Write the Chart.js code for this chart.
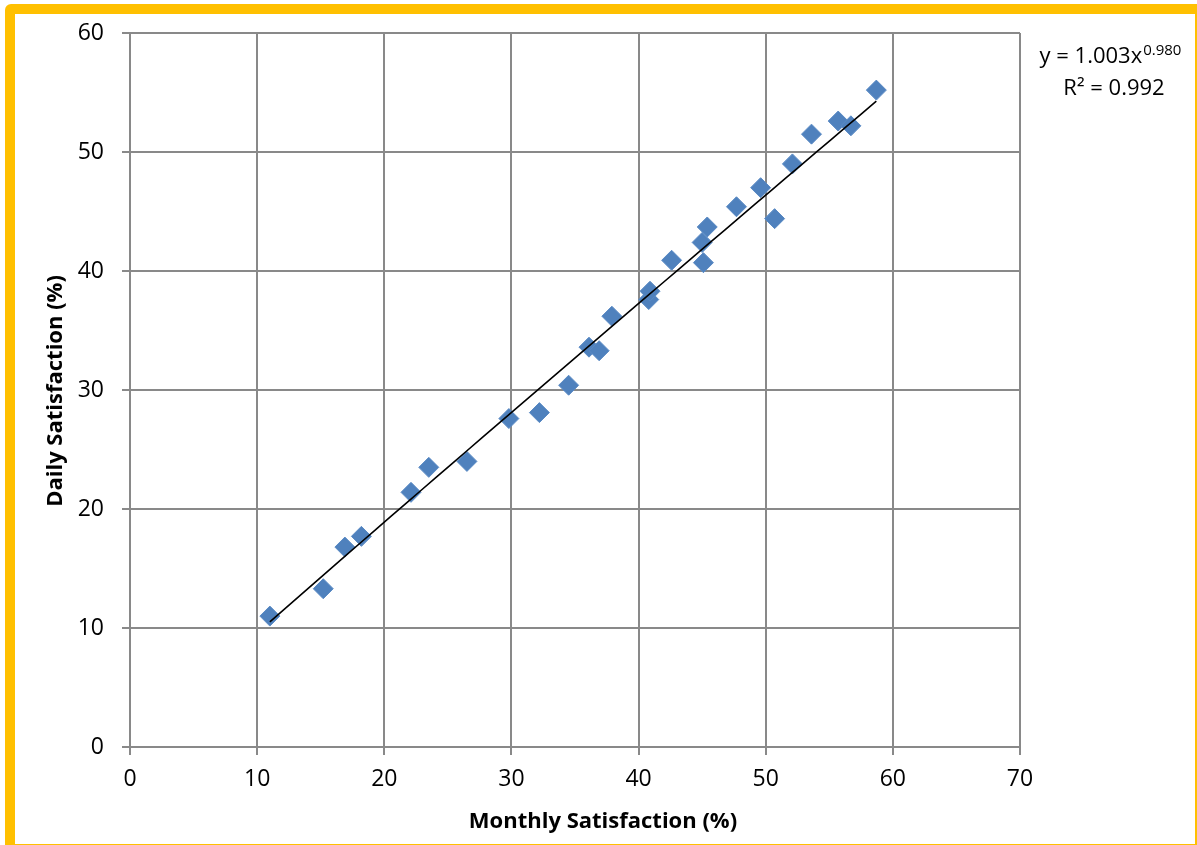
<!DOCTYPE html>
<html>
<head>
<meta charset="utf-8">
<script src="https://cdn.jsdelivr.net/npm/chart.js@4.4.1/dist/chart.umd.min.js"></script>
<style>
  html, body { margin: 0; padding: 0; background: #ffffff; overflow: hidden; }
  #wrap { position: relative; width: 1197px; height: 845px; }
  #chart { position: absolute; left: 0; top: 0; }
  #frame {
    position: absolute; left: 5px; top: 4px; width: 1200px; height: 850px;
    border: 10px solid #FFC000; border-top-left-radius: 6px; box-sizing: border-box;
    pointer-events: none;
  }
</style>
</head>
<body>
<div id="wrap">
  <canvas id="chart" width="1197" height="845"></canvas>
  <div id="frame"></div>
</div>
<script>
// Monthly vs. daily satisfaction (%) per observation
const monthly = [11.0, 15.2, 16.9, 18.2, 22.1, 23.5, 26.5, 29.8, 32.2, 34.5, 36.1, 36.9, 37.9, 40.8, 40.9, 42.6, 45.0, 45.1, 45.4, 47.7, 49.6, 50.7, 52.1, 53.6, 55.7, 56.7, 58.7];
const daily   = [11.0, 13.3, 16.8, 17.7, 21.4, 23.5, 24.0, 27.6, 28.1, 30.4, 33.6, 33.3, 36.2, 37.6, 38.3, 40.9, 42.4, 40.7, 43.7, 45.4, 47.0, 44.4, 49.0, 51.5, 52.6, 52.2, 55.2];

// Power trendline y = a * x^b and its fit quality
const fitA = 1.003;
const fitB = 0.980;
const fitR2 = 0.992;

// Axis ticks
const xTicks = [0, 10, 20, 30, 40, 50, 60, 70];
const yTicks = [0, 10, 20, 30, 40, 50, 60];

const xTitle = 'Monthly Satisfaction (%)';
const yTitle = 'Daily Satisfaction (%)';

const points = monthly.map((m, i) => ({ x: m, y: daily[i] }));

// Trendline sampled between the smallest and largest monthly value
const xLo = Math.min(...monthly), xHi = Math.max(...monthly);
const trend = [];
for (let i = 0; i <= 40; i++) {
  const x = xLo + (xHi - xLo) * i / 40;
  trend.push({ x: x, y: fitA * Math.pow(x, fitB) });
}

const FONT = '"Open Sans", "DejaVu Sans", sans-serif';
const GRID = '#898989';

const textPlugin = {
  id: 'texts',
  afterDraw(chart) {
    const ctx = chart.ctx;
    ctx.save();
    ctx.fillStyle = '#000000';

    // axis titles
    ctx.font = 'bold 22px ' + FONT;
    ctx.textAlign = 'center';
    ctx.textBaseline = 'middle';
    ctx.fillText(xTitle, 603, 822);
    ctx.save();
    ctx.translate(56, 391);
    ctx.rotate(-Math.PI / 2);
    ctx.fillText(yTitle, 0, 0);
    ctx.restore();

    // trendline equation
    ctx.textBaseline = 'alphabetic';
    ctx.textAlign = 'left';
    const main = 'y = ' + fitA.toFixed(3) + 'x';
    const sup = fitB.toFixed(3);
    ctx.font = '22px ' + FONT;
    const wMain = ctx.measureText(main).width;
    ctx.font = '15px ' + FONT;
    const wSup = ctx.measureText(sup).width;
    const x0 = 1110 - (wMain + wSup) / 2;
    ctx.font = '22px ' + FONT;
    ctx.fillText(main, x0, 63);
    ctx.font = '15px ' + FONT;
    ctx.fillText(sup, x0 + wMain + 1, 55);

    ctx.font = '22px ' + FONT;
    ctx.textAlign = 'center';
    ctx.fillText('R\u00B2 = ' + fitR2.toFixed(3), 1114, 95);
    ctx.restore();
  }
};

new Chart(document.getElementById('chart'), {
  type: 'scatter',
  data: {
    datasets: [
      {
        label: 'Observations',
        data: points,
        pointStyle: 'rectRot',
        pointRadius: 10,
        pointHoverRadius: 10,
        backgroundColor: '#4F81BD',
        borderColor: '#5A8AC4',
        borderWidth: 1,
        order: 2
      },
      {
        label: 'Power trend',
        type: 'line',
        data: trend,
        borderColor: '#000000',
        borderWidth: 1.6,
        pointRadius: 0,
        fill: false,
        tension: 0,
        order: 1
      }
    ]
  },
  options: {
    responsive: false,
    animation: false,
    devicePixelRatio: 1,
    layout: { padding: { top: 33, right: 177, bottom: 0, left: 0 } },
    plugins: {
      legend: { display: false },
      tooltip: { enabled: false },
      title: { display: false }
    },
    scales: {
      x: {
        type: 'linear',
        min: xTicks[0],
        max: xTicks[xTicks.length - 1],
        afterFit(s) { s.height = 98; },
        afterBuildTicks(s) { s.ticks = xTicks.map(v => ({ value: v })); },
        grid: { color: GRID, lineWidth: 2, tickLength: 8, tickColor: GRID },
        border: { color: GRID, width: 2 },
        ticks: { color: '#000000', padding: 11, font: { family: FONT, size: 23 } }
      },
      y: {
        type: 'linear',
        min: yTicks[0],
        max: yTicks[yTicks.length - 1],
        afterFit(s) { s.width = 130; },
        afterBuildTicks(s) { s.ticks = yTicks.map(v => ({ value: v })); },
        grid: { color: GRID, lineWidth: 2, tickLength: 8, tickColor: GRID },
        border: { color: GRID, width: 2 },
        ticks: { color: '#000000', padding: 18, font: { family: FONT, size: 23 } }
      }
    }
  },
  plugins: [textPlugin]
});
</script>
</body>
</html>
